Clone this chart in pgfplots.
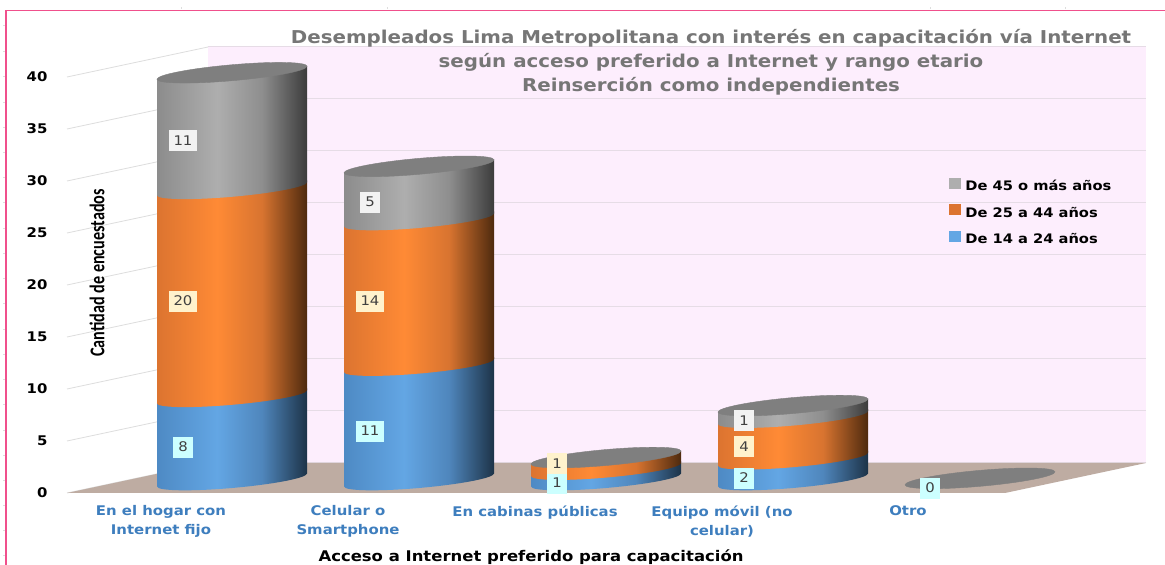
\documentclass[border=0pt]{standalone}
\usepackage{fontspec}
\usepackage{pgfplots}
\usepackage{pgfplotstable}
\pgfplotsset{compat=1.18}
\setmainfont{DejaVu Sans}[FakeStretch=1.12]
\newfontfamily\condfont{Carlito}
\definecolor{wall}{HTML}{FDEEFD}
\definecolor{floorc}{HTML}{BEACA2}
\definecolor{gridw}{HTML}{E6DCE6}
\definecolor{grids}{HTML}{DDDDDD}
\definecolor{pinkb}{HTML}{F0508C}
\definecolor{capc}{HTML}{7F7F7F}
\definecolor{xtxt}{HTML}{3E7EBE}
\definecolor{ttxt}{HTML}{767676}
\definecolor{ltxt}{HTML}{404040}
\definecolor{lbl1}{HTML}{CCFFFF}
\definecolor{lbl2}{HTML}{FFF2CC}
\definecolor{lbl3}{HTML}{F2F2F2}
\definecolor{bl1}{HTML}{4E8AC4}\definecolor{bl2}{HTML}{63A6E4}\definecolor{bl3}{HTML}{4F86BC}\definecolor{bl4}{HTML}{1D3348}
\definecolor{or1}{HTML}{DC7430}\definecolor{or2}{HTML}{FF8A35}\definecolor{or3}{HTML}{D87430}\definecolor{or4}{HTML}{4E2A0E}
\definecolor{gr1}{HTML}{8C8C8C}\definecolor{gr2}{HTML}{AEAEAE}\definecolor{gr3}{HTML}{8E8E8E}\definecolor{gr4}{HTML}{3C3C3C}
\pgfdeclarehorizontalshading{shBlue}{100bp}{color(0bp)=(bl1);color(25bp)=(bl1);color(45bp)=(bl2);color(60bp)=(bl3);color(75bp)=(bl4);color(100bp)=(bl4)}
\pgfdeclarehorizontalshading{shOrange}{100bp}{color(0bp)=(or1);color(25bp)=(or1);color(45bp)=(or2);color(60bp)=(or3);color(75bp)=(or4);color(100bp)=(or4)}
\pgfdeclarehorizontalshading{shGray}{100bp}{color(0bp)=(gr1);color(25bp)=(gr1);color(45bp)=(gr2);color(60bp)=(gr3);color(75bp)=(gr4);color(100bp)=(gr4)}
% one cylinder segment: origin at the centre of its lower ellipse, height from the data
\newcommand\declcyl[2]{\pgfdeclareplotmark{#1}{%
  \pgfmathsetlengthmacro\cylR{(\segval*10.4+2+6.5)*1pt}%
  \pgfmathsetlengthmacro\cylL{(\segval*10.4+2-6.5)*1pt}%
  \pgfmathparse{\segval>0?1:0}%
  \ifdim\pgfmathresult pt>0.5pt
    \shade[shading=#2,draw=none] (-75pt,-6.5pt) .. controls (-75pt,-10.92pt) and (-41.4pt,-11.6pt) .. (0pt,-8pt)
       .. controls (41.4pt,-4.4pt) and (75pt,2.08pt) .. (75pt,6.5pt)
       -- (75pt,\cylR) -- (-75pt,\cylL) -- cycle;
  \fi}}
\declcyl{segBlue}{shBlue}\declcyl{segOrange}{shOrange}\declcyl{segGray}{shGray}
\pgfdeclareplotmark{cylcap}{%
  \fill[capc] (-75pt,-6.5pt) .. controls (-75pt,-10.92pt) and (-41.4pt,-11.6pt) .. (0pt,-8pt)
       .. controls (41.4pt,-4.4pt) and (75pt,2.08pt) .. (75pt,6.5pt)
       .. controls (75pt,10.92pt) and (41.4pt,11.6pt) .. (0pt,8pt)
       .. controls (-41.4pt,4.4pt) and (-75pt,-2.08pt) .. (-75pt,-6.5pt) -- cycle;}
\pgfplotstableread{
x   a  b  c
232 8  20 11
419 11 14 5
606 1  1  0
793 2  4  1
980 0  0  0
}\datatable
\pgfplotstableread{
x   y    val
183 4.42  8
370 5.96  11
557 0.96  1
744 1.44  2
930 0.48  0
}\lblblue
\pgfplotstableread{
x   y     val
183 18.46 20
370 18.46 14
557 2.84  1
744 4.45  4
}\lblorange
\pgfplotstableread{
x   y     val
183 33.9  11
370 27.98 5
744 6.95  1
}\lblgray
\begin{document}
\begin{tikzpicture}[x=1pt,y=1pt]
\useasboundingbox (0pt,0pt) rectangle (1165pt,565pt);
\fill[white] (0pt,0pt) rectangle (1165pt,565pt);
\draw[pinkb,line width=1.5pt] (6pt,0pt) -- (6pt,554.7pt) -- (1165pt,554.7pt);
\foreach \px in {181,387,930,1065} {\draw[grids,line width=0.6pt] (\px pt,556pt) -- (\px pt,558pt);}
\foreach \py in {25,51,76,102,127,152,177,202,228,253,278,303,329,354,379,404,430,455,480,505,530,555} {\draw[grids,line width=0.6pt] (3pt,565pt-\py pt) -- (5pt,565pt-\py pt);}
\begin{axis}[
  at={(67pt,72pt)},anchor=south west,
  scale only axis,width=938pt,height=416pt,
  xmin=67,xmax=1005,ymin=0,ymax=40,clip=false,
  axis line style={draw=none},major tick length=0pt,
  axis y line*=left,axis x line*=bottom,
  ytick={0,5,...,40},
  xtick={161,348,535,722,908},
  xticklabels={{En el hogar con\\Internet fijo},{Celular o\\Smartphone},{En cabinas públicas},{Equipo móvil (no\\celular)},{Otro}},
  xticklabel style={align=center,font=\fontsize{13.3}{19}\selectfont\bfseries,text=xtxt,yshift=-9pt},
  yticklabel style={font=\fontsize{13.3}{15}\selectfont\bfseries,text=black,xshift=-16pt},
  /pgf/number format/assume math mode=true,
  ylabel={\scalebox{0.77}[1]{\condfont\fontsize{21}{22}\selectfont\bfseries Cantidad de encuestados}},
  ylabel style={at={(rel axis cs:0.032,0.529)},anchor=center},
  xlabel={Acceso a Internet preferido para capacitación},
  xlabel style={at={(rel axis cs:0.4947,-0.154)},anchor=center,font=\fontsize{14.7}{16}\selectfont\bfseries,text=black},
  title={Desempleados Lima Metropolitana con interés en capacitación vía Internet\\según acceso preferido a Internet y rango etario\\Reinserción como independientes},
  title style={at={(rel axis cs:0.6866,1.0217)},anchor=center,align=center,font=\fontsize{17.7}{24}\selectfont\bfseries,text=ttxt},
  legend style={at={(rel axis cs:0.940,0.757)},anchor=north west,draw=none,fill=none,font=\fontsize{13.1}{14}\selectfont\bfseries,row sep=10pt,inner sep=0pt},
  legend cell align=left,
  legend image code/.code={\fill[#1] (0pt,-2pt) rectangle (11pt,8pt);\path (0pt,0pt) (14pt,0pt);},
  every node near coord/.append style={anchor=center,font=\fontsize{13.3}{14}\selectfont,text=ltxt,minimum height=21pt,inner xsep=5pt,inner ysep=0pt},
]
\addlegendimage{gr2}\addlegendentry{De 45 o más años}
\addlegendimage{or1}\addlegendentry{De 25 a 44 años}
\addlegendimage{bl2}\addlegendentry{De 14 a 24 años}

\fill[wall] (axis cs:208,2.885) rectangle (axis cs:1146,42.885);
\pgfplotsinvokeforeach{0,5,...,40}{
  \draw[grids,line width=0.8pt] (axis cs:67,#1) -- (axis cs:208,#1+2.885);
  \draw[gridw,line width=1pt] (axis cs:208,#1+2.885) -- (axis cs:1146,#1+2.885);
}
\fill[floorc] (axis cs:67,0) -- (axis cs:208,2.885) -- (axis cs:1146,2.885) -- (axis cs:1005,0) -- cycle;

\addplot[forget plot,scatter,only marks,mark=segBlue,point meta=y,visualization depends on={\thisrow{a} \as \segval}]
  table[x=x,y expr=1.25] {\datatable};
\addplot[forget plot,scatter,only marks,mark=segOrange,point meta=y,visualization depends on={\thisrow{b} \as \segval}]
  table[x=x,y expr=\thisrow{a}+1.25] {\datatable};
\addplot[forget plot,scatter,only marks,mark=segGray,point meta=y,visualization depends on={\thisrow{c} \as \segval}]
  table[x=x,y expr=\thisrow{a}+\thisrow{b}+1.25] {\datatable};
\addplot[forget plot,only marks,mark=cylcap]
  table[x=x,y expr=\thisrow{a}+\thisrow{b}+\thisrow{c}+1.41] {\datatable};

\addplot[forget plot,draw=none,mark=none,point meta=\thisrow{val},nodes near coords,
  every node near coord/.append style={fill=lbl1}] table[x=x,y=y] {\lblblue};
\addplot[forget plot,draw=none,mark=none,point meta=\thisrow{val},nodes near coords,
  every node near coord/.append style={fill=lbl2}] table[x=x,y=y] {\lblorange};
\addplot[forget plot,draw=none,mark=none,point meta=\thisrow{val},nodes near coords,
  every node near coord/.append style={fill=lbl3}] table[x=x,y=y] {\lblgray};
\end{axis}
\end{tikzpicture}
\end{document}
